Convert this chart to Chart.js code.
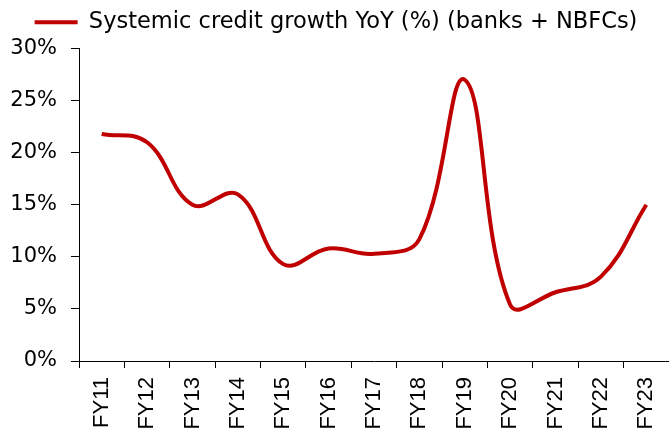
<!DOCTYPE html>
<html>
<head>
<meta charset="utf-8">
<script src="https://cdn.jsdelivr.net/npm/chart.js@4.4.1/dist/chart.umd.min.js"></script>
<style>
  html, body { margin: 0; padding: 0; background: #fff; }
  #wrap { width: 669px; height: 432px; position: relative; }
</style>
</head>
<body>
<div id="wrap"><canvas id="c"></canvas></div>
<script>
// Fiscal years on the category axis
const categories = ['FY11', 'FY12', 'FY13', 'FY14', 'FY15', 'FY16', 'FY17', 'FY18', 'FY19', 'FY20', 'FY21', 'FY22', 'FY23'];
// Year-on-year growth of systemic credit, in percent
const creditGrowth = [21.8, 21.0, 15.0, 16.0, 9.3, 10.8, 10.3, 11.7, 27.0, 5.4, 6.6, 8.1, 15.0];
const seriesLabel = 'Systemic credit growth YoY (%) (banks + NBFCs)';
// Value axis range and step, percent
const yMin = 0, yMax = 30, yStep = 5;

const RED = '#C00000';
const GOTHIC = '"DejaVu Sans", sans-serif';
const ARIAL = '"Liberation Sans", Arial, sans-serif';

// Adds a little space between the legend row and the plot area
const legendGap = {
  id: 'legendGap',
  beforeInit(chart) {
    const legend = chart.legend;
    if (!legend) return;
    const fit = legend.fit.bind(legend);
    legend.fit = function () { fit(); this.height += 5; };
  }
};

new Chart(document.getElementById('c'), {
  type: 'line',
  data: {
    labels: categories,
    datasets: [{
      label: seriesLabel,
      data: creditGrowth,
      borderColor: RED,
      backgroundColor: RED,
      borderWidth: 4,
      pointRadius: 0,
      tension: 0.4,
      fill: false
    }]
  },
  plugins: [legendGap],
  options: {
    responsive: true,
    maintainAspectRatio: false,
    animation: false,
    layout: { padding: { top: -6, right: -3, left: 0, bottom: 0 } },
    plugins: {
      legend: {
        display: true,
        position: 'top',
        labels: {
          boxWidth: 43,
          boxHeight: 0,
          color: '#000',
          padding: 17,
          font: { family: GOTHIC, size: 22.5 }
        }
      },
      tooltip: { enabled: false }
    },
    scales: {
      x: {
        offset: true,
        grid: { display: true, offset: true, drawOnChartArea: false, tickLength: 7, color: '#000', lineWidth: 1 },
        border: { display: true, color: '#000', width: 1 },
        ticks: {
          color: '#000',
          minRotation: 90,
          maxRotation: 90,
          autoSkip: false,
          padding: 9,
          font: { family: ARIAL, size: 22 }
        },
        afterFit: (s) => { s.height = 71; s.paddingLeft = 0; s.paddingRight = 0; }
      },
      y: {
        min: yMin,
        max: yMax,
        grid: { display: true, drawOnChartArea: false, tickLength: 8, color: '#000', lineWidth: 1 },
        border: { display: true, color: '#000', width: 1 },
        ticks: {
          stepSize: yStep,
          color: '#000',
          padding: 14,
          font: { family: GOTHIC, size: 21 },
          callback: (v) => v + '%'
        },
        afterFit: (s) => { s.width = 79; }
      }
    }
  }
});
</script>
</body>
</html>
